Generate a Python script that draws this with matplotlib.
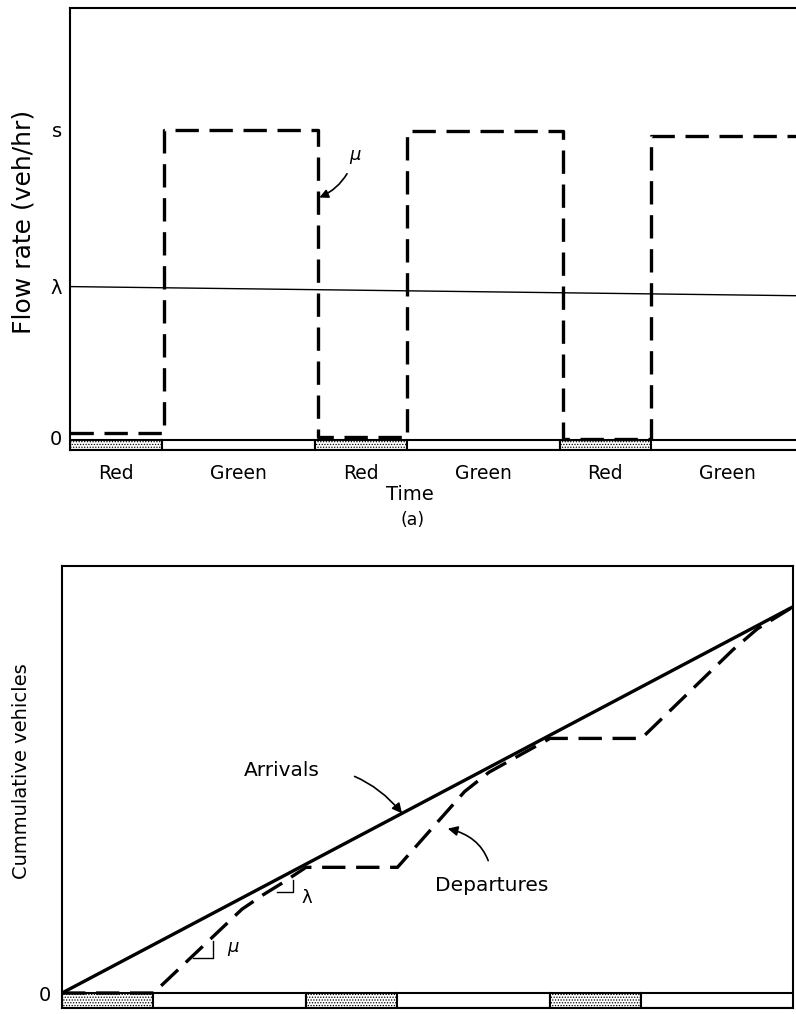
import numpy as np
import matplotlib.pyplot as plt

plt.rcParams['font.family'] = ['DejaVu Sans']
plt.rcParams['hatch.linewidth'] = 0.6

# signal timing, in time units (red = 3, green = 5)
phases = ['Red', 'Green', 'Red', 'Green', 'Red', 'Green']
durations = [3.0, 5.0, 3.0, 5.0, 3.0, 5.0]

# (a) service flow rate mu (dashed) and arrival rate lambda, s = 1
flow_t = [0, 3.07, 3.07, 8.1, 8.1, 11.0, 11.0, 16.1, 16.1, 19.0, 19.0, 24.0]
flow_mu = [0.012, 0.012, 1.0, 1.0, 0.0, 0.0, 0.995, 0.995, -0.005, -0.005, 0.98, 0.98]
lam_t = [0, 24]
lam_flow = [0.49, 0.46]

# (b) cumulative arrivals / departures
arr_t = [0, 24]
arr_n = [0, 24]
dep_t = [0, 3.0, 5.9, 6.6, 7.2, 8.0, 11.0, 13.2, 14.0, 16.0, 19.0, 22.0, 22.8, 24.0]
dep_n = [0, 0, 5.2, 6.1, 6.8, 7.8, 7.8, 12.5, 13.7, 15.8, 15.8, 21.3, 22.6, 24.0]

starts = np.cumsum([0] + durations[:-1])
hatches = ['......' if p == 'Red' else '' for p in phases]

fig = plt.figure(figsize=(7.96, 10.14), dpi=100)
ax1 = fig.add_axes([70/796, 1 - 450/1014, 730/796, 442/1014])
ax2 = fig.add_axes([62/796, 1 - 1008/1014, 731/796, 442/1014])

dash = (0, (7, 3.2))

# ---- (a) flow rate
ax1.set_xlim(0, 23.86)
ax1.set_ylim(-0.042, 1.397)
ax1.bar(starts, 0.032, width=durations, bottom=-0.042, align='edge',
        color='white', edgecolor='black', linewidth=1.5, hatch=hatches)
ax1.plot(flow_t, flow_mu, color='black', lw=2.4, linestyle=dash)
ax1.plot(lam_t, lam_flow, color='black', lw=1.0)

ax1.set_yticks([0, 0.49, 1.0], ['0', 'λ', 's'], fontsize=14)
ax1.set_xticks([])
ax1.tick_params(axis='y', length=0, pad=6)
ax1.spines['right'].set_visible(False)
for sp in ['left', 'top', 'bottom']:
    ax1.spines[sp].set_linewidth(1.5)
ax1.set_ylabel('Flow rate (veh/hr)', fontsize=18)
ax1.yaxis.set_label_coords(-0.047, 0.516)

for s, d, p in zip(starts, durations, phases):
    ax1.text(s + d/2, -0.117, p, ha='center', va='center', fontsize=13.5)
ax1.text(11.1, -0.186, 'Time', ha='center', va='center', fontsize=14)
ax1.text(11.2, -0.27, '(a)', ha='center', va='center', fontsize=12.5)

ax1.annotate('μ', xy=(8.15, 0.78), xytext=(9.3, 0.92), fontsize=13, style='italic',
             ha='center', va='center',
             arrowprops=dict(arrowstyle='-|>', color='black', lw=1.2,
                             connectionstyle='arc3,rad=-0.25', shrinkA=6, shrinkB=0))

# ---- (b) cumulative vehicles
ax2.set_xlim(0, 23.97)
ax2.set_ylim(-0.93, 26.5)
ax2.bar(starts, 0.93, width=durations, bottom=-0.93, align='edge',
        color='white', edgecolor='black', linewidth=1.5, hatch=hatches)
ax2.plot(arr_t, arr_n, color='black', lw=2.4)
ax2.plot(dep_t, dep_n, color='black', lw=2.4, linestyle=dash)

ax2.set_yticks([0], ['0'], fontsize=14)
ax2.set_xticks([])
ax2.tick_params(axis='y', length=0, pad=8)
for sp in ax2.spines.values():
    sp.set_linewidth(1.5)
ax2.set_ylabel('Cummulative vehicles', fontsize=14)
ax2.yaxis.set_label_coords(-0.042, 0.536)

ax2.annotate('Arrivals', xy=(11.15, 11.15), xytext=(7.2, 13.8), fontsize=14.5,
             ha='center', va='center',
             arrowprops=dict(arrowstyle='-|>', color='black', lw=1.2,
                             connectionstyle='arc3,rad=-0.3', shrinkA=24, shrinkB=0))
ax2.annotate('Departures', xy=(12.65, 10.2), xytext=(14.1, 6.7), fontsize=14.5,
             ha='center', va='center',
             arrowprops=dict(arrowstyle='-|>', color='black', lw=1.2,
                             connectionstyle='arc3,rad=0.4', shrinkA=9, shrinkB=0))

# slope triangles
ax2.plot([4.95, 4.95, 4.3], [3.2, 2.15, 2.15], color='black', lw=1.0)
ax2.text(5.6, 2.85, 'μ', fontsize=13, style='italic', ha='center', va='center')
ax2.plot([7.05, 7.57, 7.57], [6.25, 6.25, 7.0], color='black', lw=1.0)
ax2.text(8.03, 5.9, 'λ', fontsize=13, ha='center', va='center')

fig.savefig('out.png', dpi=100)
